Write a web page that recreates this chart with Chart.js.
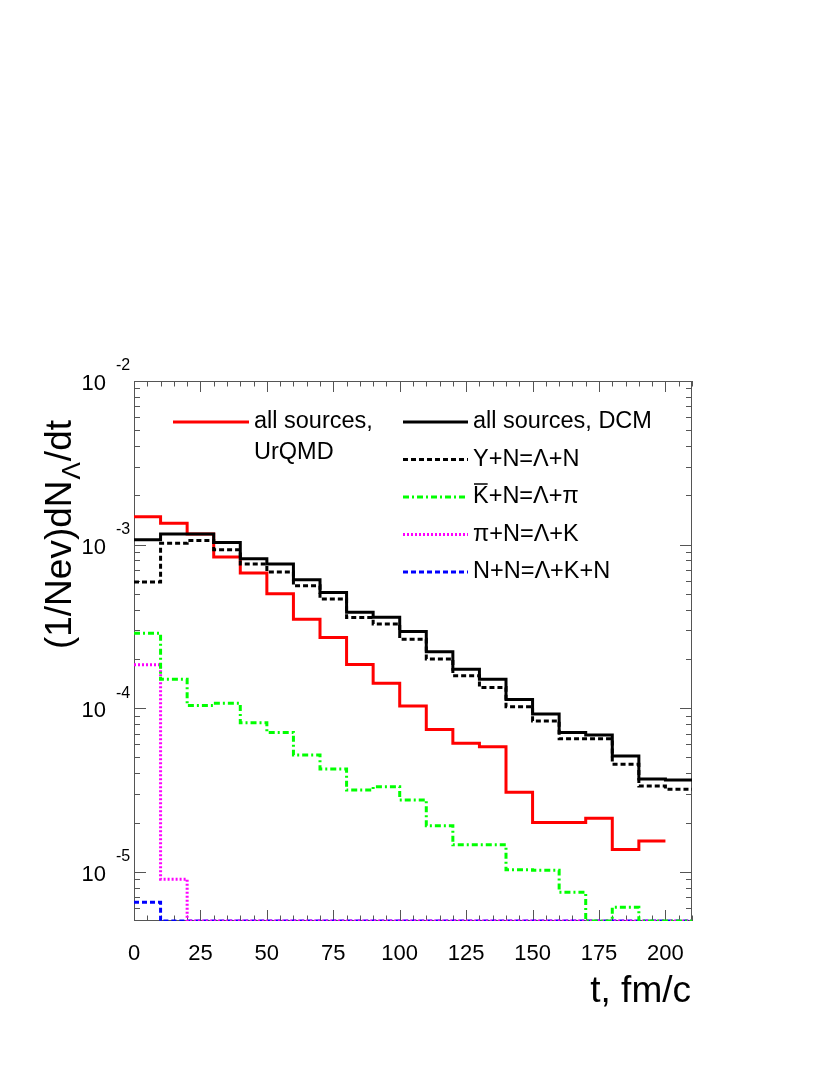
<!DOCTYPE html>
<html>
<head>
<meta charset="utf-8">
<script src="https://cdn.jsdelivr.net/npm/chart.js@4/dist/chart.umd.min.js"></script>
<style>
  body { margin: 0; background: #fff; }
  canvas { display: block; }
</style>
</head>
<body>
<canvas id="chart" width="830" height="1075"></canvas>
<script>
// bin edges in fm/c (10 fm/c bins)
const binEdges = [0, 10, 20, 30, 40, 50, 60, 70, 80, 90, 100, 110, 120, 130, 140, 150, 160, 170, 180, 190, 200, 210];

// (1/Nev) dN/dt per bin, 0 = empty bin
const urqmdAll = [1.48e-3, 1.35e-3, 1.16e-3, 8.4e-4, 6.7e-4, 5.0e-4, 3.5e-4, 2.7e-4, 1.85e-4, 1.42e-4,
                  1.03e-4, 7.4e-5, 6.1e-5, 5.8e-5, 3.06e-5, 2.0e-5, 2.0e-5, 2.12e-5, 1.37e-5, 1.54e-5];
const dcmAll = [1.07e-3, 1.16e-3, 1.16e-3, 1.03e-3, 8.2e-4, 7.6e-4, 6.1e-4, 5.1e-4, 3.86e-4, 3.6e-4,
                2.94e-4, 2.21e-4, 1.73e-4, 1.5e-4, 1.13e-4, 9.2e-5, 7.1e-5, 6.86e-5, 5.1e-5, 3.69e-5, 3.64e-5];
const dcmYN = [5.9e-4, 1.02e-3, 1.06e-3, 9.3e-4, 7.6e-4, 6.8e-4, 5.6e-4, 4.65e-4, 3.58e-4, 3.27e-4,
               2.64e-4, 2.0e-4, 1.58e-4, 1.34e-4, 1.02e-4, 8.35e-5, 6.5e-5, 6.5e-5, 4.54e-5, 3.34e-5, 3.19e-5];
const dcmKbarN = [2.87e-4, 1.5e-4, 1.04e-4, 1.07e-4, 8.15e-5, 7.1e-5, 5.17e-5, 4.25e-5, 3.16e-5, 3.31e-5,
                  2.75e-5, 1.91e-5, 1.46e-5, 1.46e-5, 1.03e-5, 1.02e-5, 7.5e-6, 0, 6.07e-6, 0, 0];
const dcmPiN = [1.84e-4, 9.0e-6, 0, 0, 0, 0, 0, 0, 0, 0, 0, 0, 0, 0, 0, 0, 0, 0, 0, 0, 0];
const dcmNN = [6.5e-6, 0, 0, 0, 0, 0, 0, 0, 0, 0, 0, 0, 0, 0, 0, 0, 0, 0, 0, 0, 0];

const xTickValues = [0, 25, 50, 75, 100, 125, 150, 175, 200];
const yDecades = [1e-5, 1e-4, 1e-3, 1e-2];
const yExponents = ["-5", "-4", "-3", "-2"];

const Y_MIN = 5e-6;
const Y_MAX = 1e-2;
const FONT = '"Liberation Sans", Arial, Helvetica, sans-serif';

// histogram -> step points (left edges + closing right edge), empty bins sit on the axis floor
function histPoints(values) {
    const pts = values.map((v, i) => ({ x: binEdges[i], y: v > 0 ? v : Y_MIN }));
    const last = pts[pts.length - 1];
    pts.push({ x: binEdges[values.length], y: last.y });
    return pts;
}

const datasets = [
    { label: "all sources, DCM", data: histPoints(dcmAll), borderColor: "#000000", borderWidth: 3, borderDash: [] },
    { label: "Y+N=Λ+N", data: histPoints(dcmYN), borderColor: "#000000", borderWidth: 3, borderDash: [5, 3] },
    { label: "all sources, UrQMD", data: histPoints(urqmdAll), borderColor: "#ff0000", borderWidth: 3, borderDash: [] },
    { label: "K+N=Λ+π", data: histPoints(dcmKbarN), borderColor: "#00ff00", borderWidth: 3, borderDash: [6, 3, 2, 3] },
    { label: "π+N=Λ+K", data: histPoints(dcmPiN), borderColor: "#ff00ff", borderWidth: 3, borderDash: [2, 2] },
    { label: "N+N=Λ+K+N", data: histPoints(dcmNN), borderColor: "#0000ff", borderWidth: 3, borderDash: [5, 3] },
].map((d) => ({ ...d, stepped: true, pointRadius: 0, fill: false, tension: 0 }));

// frame with ROOT-like inner ticks
function drawFrame(chart) {
    const { ctx, chartArea: a, scales: { x, y } } = chart;
    ctx.save();
    ctx.strokeStyle = "#555";
    ctx.lineWidth = 1;
    ctx.strokeRect(a.left + 0.5, a.top + 0.5, a.right - a.left - 1, a.bottom - a.top - 1);
    ctx.beginPath();
    for (let t = 0; t <= 210; t += 5) {
        const px = Math.round(x.getPixelForValue(t)) + 0.5;
        const len = t % 25 === 0 ? 11 : 5.5;
        ctx.moveTo(px, a.bottom); ctx.lineTo(px, a.bottom - len);
        ctx.moveTo(px, a.top); ctx.lineTo(px, a.top + len);
    }
    for (let e = -6; e <= -2; e++) {
        for (let k = 1; k <= 9; k++) {
            const v = k * Math.pow(10, e);
            if (v < Y_MIN * 1.001 || v > Y_MAX * 0.999) continue;
            const py = Math.round(y.getPixelForValue(v)) + 0.5;
            const len = k === 1 ? 12 : 6;
            ctx.moveTo(a.left, py); ctx.lineTo(a.left + len, py);
            ctx.moveTo(a.right, py); ctx.lineTo(a.right - len, py);
        }
    }
    ctx.stroke();
    ctx.restore();
}

function drawLabels(chart) {
    const { ctx, scales: { y } } = chart;
    ctx.save();
    ctx.fillStyle = "#000";
    yDecades.forEach((v, i) => {
        const py = y.getPixelForValue(v);
        ctx.font = "22px " + FONT;
        ctx.textAlign = "right";
        ctx.textBaseline = "middle";
        ctx.fillText("10", 106, py + 3);
        ctx.font = "16px " + FONT;
        ctx.textAlign = "left";
        ctx.fillText(yExponents[i], 116, py - 15);
    });

    // x title
    ctx.font = "37px " + FONT;
    ctx.textAlign = "right";
    ctx.textBaseline = "alphabetic";
    ctx.fillText("t, fm/c", 691, 1002);

    // y title, rotated, (1/Nev)dN_Λ/dt
    ctx.translate(71, 420);
    ctx.rotate(-Math.PI / 2);
    ctx.textAlign = "left";
    const main1 = "(1/Nev)dN", sub = "Λ", main2 = "/dt";
    ctx.font = "37px " + FONT;
    const w1 = ctx.measureText(main1).width;
    const w3 = ctx.measureText(main2).width;
    ctx.font = "26px " + FONT;
    const w2 = ctx.measureText(sub).width;
    const total = w1 + w2 + w3 + 2;
    let sx = -total;
    ctx.font = "37px " + FONT;
    ctx.fillText(main1, sx, 0);
    sx += w1 + 1;
    ctx.font = "26px " + FONT;
    ctx.fillText(sub, sx, 9);
    sx += w2 + 1;
    ctx.font = "37px " + FONT;
    ctx.fillText(main2, sx, 0);
    ctx.restore();
}

// two-column legend as in the original figure
const legendEntries = [
    { ds: 2, lines: ["all sources,", "UrQMD"], x0: 173, x1: 249, tx: 254, y: 422 },
    { ds: 0, lines: ["all sources, DCM"], x0: 403, x1: 468, tx: 473, y: 422 },
    { ds: 1, lines: ["Y+N=Λ+N"], x0: 403, x1: 468, tx: 473, y: 459.5 },
    { ds: 3, lines: ["K+N=Λ+π"], x0: 403, x1: 468, tx: 473, y: 497, bar: true },
    { ds: 4, lines: ["π+N=Λ+K"], x0: 403, x1: 468, tx: 473, y: 534.5 },
    { ds: 5, lines: ["N+N=Λ+K+N"], x0: 403, x1: 468, tx: 473, y: 572 },
];

function drawLegend(chart) {
    const { ctx } = chart;
    ctx.save();
    legendEntries.forEach((e) => {
        const d = chart.data.datasets[e.ds];
        ctx.strokeStyle = d.borderColor;
        ctx.lineWidth = d.borderWidth;
        ctx.setLineDash(d.borderDash);
        ctx.beginPath();
        ctx.moveTo(e.x0, e.y);
        ctx.lineTo(e.x1, e.y);
        ctx.stroke();
        ctx.setLineDash([]);
        ctx.fillStyle = "#000";
        ctx.font = "23.5px " + FONT;
        ctx.textAlign = "left";
        ctx.textBaseline = "middle";
        e.lines.forEach((t, i) => ctx.fillText(t, e.tx, e.y + i * 31));
        if (e.bar) {
            // overline on the K (anti-kaon)
            const kw = ctx.measureText("K").width;
            ctx.strokeStyle = "#000";
            ctx.lineWidth = 1.5;
            ctx.beginPath();
            ctx.moveTo(e.tx + 1, e.y - 13);
            ctx.lineTo(e.tx + kw - 1, e.y - 13);
            ctx.stroke();
        }
    });
    ctx.restore();
}

const decor = {
    id: "decor",
    beforeDatasetsDraw(chart) { drawFrame(chart); },
    afterDraw(chart) { drawLabels(chart); drawLegend(chart); },
};

const ctx = document.getElementById("chart").getContext("2d");
new Chart(ctx, {
    type: "line",
    data: { datasets: datasets },
    plugins: [decor],
    options: {
        responsive: false,
        animation: false,
        layout: { padding: { left: 0, top: 381, right: 138, bottom: 0 } },
        plugins: {
            legend: { display: false },
            tooltip: { enabled: false },
        },
        scales: {
            x: {
                type: "linear",
                min: 0,
                max: 210,
                afterFit: (s) => { s.height = 154; },
                afterBuildTicks: (s) => { s.ticks = xTickValues.map((v) => ({ value: v })); },
                grid: { display: false },
                border: { display: false },
                ticks: {
                    color: "#000",
                    padding: 12,
                    maxRotation: 0,
                    font: { family: FONT, size: 22 },
                },
            },
            y: {
                type: "logarithmic",
                min: Y_MIN,
                max: Y_MAX,
                afterFit: (s) => { s.width = 134; },
                grid: { display: false },
                border: { display: false },
                ticks: { display: false },
            },
        },
    },
});
</script>
</body>
</html>
